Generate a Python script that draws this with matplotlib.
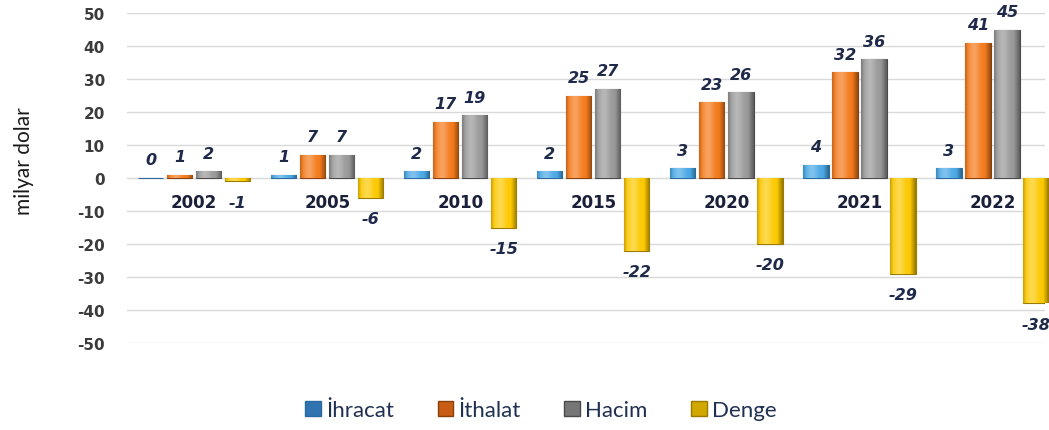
import numpy as np
import matplotlib
matplotlib.use("Agg")
import matplotlib.pyplot as plt
from matplotlib.colors import to_rgb
from matplotlib.patches import Patch

years = ["2002", "2005", "2010", "2015", "2020", "2021", "2022"]
ihracat = [0, 1, 2, 2, 3, 4, 3]
ithalat = [1, 7, 17, 25, 23, 32, 41]
hacim = [2, 7, 19, 27, 26, 36, 45]
denge = [-1, -6, -15, -22, -20, -29, -38]
series_names = ["İhracat", "İthalat", "Hacim", "Denge"]
yticks = list(range(-50, 51, 10))

colors = ["#4aa8e6", "#f47a1c", "#989898", "#fcc800"]
edge_colors = ["#2a6aa0", "#8a400a", "#4a4a4a", "#9a7a00"]
legend_colors = ["#2f73b0", "#c85c12", "#767676", "#d0a800"]

fig = plt.figure(figsize=(10.49, 4.31), dpi=100)
ax = fig.add_axes([127/1049, 1-344/431, (1045-127)/1049, 330/431])

x = np.arange(len(years))
spacing = 0.218
width = 0.19
offsets = [-1.5*spacing, -0.5*spacing, 0.5*spacing, 1.5*spacing]
label_color = "#1f2a4a"


def gradient_overlay(bar, base):
    c = np.array(to_rgb(base))
    n = 64
    t = np.linspace(0, 1, n)
    hl = 0.30*np.exp(-((t-0.35)/0.22)**2)
    dk = 0.40*np.clip((t-0.78)/0.22, 0, 1) + 0.20*np.clip((0.12-t)/0.12, 0, 1)
    cols = c[None, :] + (1-c[None, :])*hl[:, None]
    cols = cols*(1-dk[:, None])
    img = np.clip(cols, 0, 1)[None, :, :]
    x0, y0 = bar.get_x(), bar.get_y()
    w, h = bar.get_width(), bar.get_height()
    im = ax.imshow(img, extent=[x0, x0+w, min(y0, y0+h), max(y0, y0+h)],
                   aspect="auto", zorder=3, interpolation="bicubic")
    im.set_clip_path(bar)


data = [ihracat, ithalat, hacim, denge]
for i, (vals, name) in enumerate(zip(data, series_names)):
    bars = ax.bar(x + offsets[i], vals, width, color=colors[i],
                  edgecolor=edge_colors[i], linewidth=0.8, zorder=3, label=name)
    for bar in bars:
        if bar.get_height() != 0:
            gradient_overlay(bar, colors[i])
    for xi, v in zip(x + offsets[i], vals):
        dy = 13 if v >= 0 else -15
        ax.annotate(str(v), (xi, v), xytext=(0, dy), textcoords="offset points",
                    ha="center", va="center", fontsize=11.5, fontweight="bold",
                    fontstyle="italic", color=label_color, annotation_clip=False)

for xi, yr in zip(x, years):
    ax.annotate(yr, (xi, 0), xytext=(0, -17.5), textcoords="offset points",
                ha="center", va="center", fontsize=12, fontweight="bold",
                color="#1a1f3a")

ax.set_ylim(-50, 50)
ax.set_xlim(-0.505, 6.395)
ax.set_yticks(yticks)
ax.set_yticklabels([str(t) for t in yticks], fontsize=11, fontweight="bold", color="#3b3b3b")
ax.set_xticks([])
ax.tick_params(axis="y", length=0, pad=16)
ax.yaxis.grid(True, color="#d9d9d9", linewidth=1.0, zorder=0)
ax.set_axisbelow(True)
for s in ax.spines.values():
    s.set_visible(False)

fig.text(24/1049, 1-161/431, "milyar dolar", rotation=90, ha="center", va="center",
         fontsize=15, color="#1a1a1a", family="Lato")

handles = [Patch(facecolor=legend_colors[i], edgecolor=edge_colors[i]) for i in range(4)]
fig.legend(handles, series_names, loc="center", bbox_to_anchor=(541/1049, 1-411/431),
           ncol=4, frameon=False, handlelength=0.7, handleheight=0.65, handletextpad=0.25,
           columnspacing=1.95, prop={"family": "Lato", "size": 16},
           labelcolor="#1f3050")

fig.savefig("out.png", dpi=100)
